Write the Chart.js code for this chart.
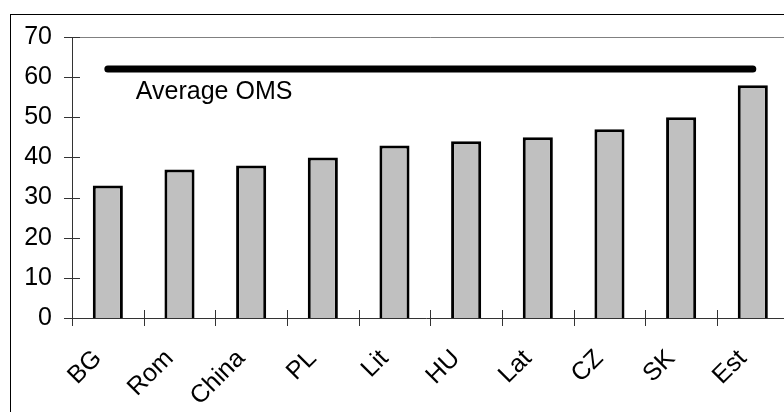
<!DOCTYPE html>
<html>
<head>
<meta charset="utf-8">
<script src="https://cdn.jsdelivr.net/npm/chart.js@4"></script>
<style>
  html, body { margin: 0; padding: 0; background: #fff; overflow: hidden; }
  #wrap { width: 800px; height: 412px; }
</style>
</head>
<body>
<div id="wrap"><canvas id="grafico"></canvas></div>
<script>
// datos
const paises = ['BG', 'Rom', 'China', 'PL', 'Lit', 'HU', 'Lat', 'CZ', 'SK', 'Est'];
const valores = [33, 37, 38, 40, 43, 44, 45, 47, 50, 58];
const mediaOMS = [62, 62, 62, 62, 62, 62, 62, 62, 62, 62];
const etiquetaMedia = 'Average OMS';
const ticksY = [0, 10, 20, 30, 40, 50, 60, 70];

const FUENTE = '"Liberation Sans", Arial, sans-serif';

// marco exterior, borde del área y marcas de graduación cruzadas
const decoracion = {
    id: 'decoracion',
    beforeDraw(chart) {
        const c = chart.ctx;
        c.save();
        c.fillStyle = '#fff';
        c.fillRect(0, 0, chart.width, chart.height);
        c.strokeStyle = '#000';
        c.lineWidth = 1;
        c.strokeRect(10.5, 14.5, chart.width + 20, chart.height + 20);
        c.restore();
    },
    afterDraw(chart) {
        const c = chart.ctx;
        const a = chart.chartArea;
        const x = chart.scales.x, y = chart.scales.y;
        c.save();
        // borde superior gris
        c.strokeStyle = '#808080';
        c.lineWidth = 1;
        c.beginPath();
        c.moveTo(a.left, Math.round(a.top) + 0.5);
        c.lineTo(a.right, Math.round(a.top) + 0.5);
        c.stroke();
        // ejes
        c.strokeStyle = '#333';
        c.beginPath();
        c.moveTo(Math.round(a.left) + 0.5, a.top);
        c.lineTo(Math.round(a.left) + 0.5, a.bottom);
        c.moveTo(a.left - 8, Math.round(a.bottom) + 0.5);
        c.lineTo(a.right, Math.round(a.bottom) + 0.5);
        // marcas hacia dentro
        ticksY.forEach(v => {
            const py = Math.round(y.getPixelForValue(v)) + 0.5;
            c.moveTo(a.left - 8, py);
            c.lineTo(a.left + 8, py);
        });
        for (let i = 0; i <= paises.length; i++) {
            const px = Math.round(a.left + (a.right - a.left) * i / paises.length) + 0.5;
            c.moveTo(px, a.bottom - 8);
            c.lineTo(px, a.bottom + 8);
        }
        c.stroke();
        // texto de la línea media
        c.fillStyle = '#000';
        c.font = '25px ' + FUENTE;
        c.textBaseline = 'middle';
        c.fillText(etiquetaMedia, x.getPixelForValue(0) + 28, y.getPixelForValue(56.3));
        c.restore();
    }
};

document.addEventListener('DOMContentLoaded', () => {
    const ctx = document.getElementById('grafico');
    new Chart(ctx, {
        data: {
            labels: paises,
            datasets: [
                {
                    type: 'line',
                    data: mediaOMS,
                    borderColor: '#000',
                    borderWidth: 7,
                    borderCapStyle: 'round',
                    pointRadius: 0,
                    fill: false,
                    order: 0
                },
                {
                    type: 'bar',
                    data: valores,
                    backgroundColor: '#c0c0c0',
                    borderColor: '#000',
                    borderWidth: 3,
                    barPercentage: 0.42,
                    categoryPercentage: 1,
                    order: 1
                }
            ]
        },
        options: {
            responsive: true,
            maintainAspectRatio: false,
            animation: false,
            layout: { padding: { left: 10, top: 37, right: 0, bottom: 0 } },
            plugins: {
                legend: { display: false },
                tooltip: { enabled: false }
            },
            scales: {
                x: {
                    offset: true,
                    border: { display: false },
                    grid: { display: false, drawTicks: false },
                    ticks: {
                        color: '#000',
                        font: { size: 25, family: FUENTE },
                        maxRotation: 45,
                        minRotation: 45,
                        padding: 26,
                        labelOffset: -10
                    },
                    afterFit: s => { s.height = 94; }
                },
                y: {
                    min: 0,
                    max: 70,
                    border: { display: false },
                    grid: { display: false, drawTicks: false },
                    ticks: {
                        stepSize: 10,
                        color: '#000',
                        font: { size: 25, family: FUENTE },
                        padding: 20
                    },
                    afterFit: s => { s.width = 62; }
                }
            }
        },
        plugins: [decoracion]
    });
});
</script>
</body>
</html>
